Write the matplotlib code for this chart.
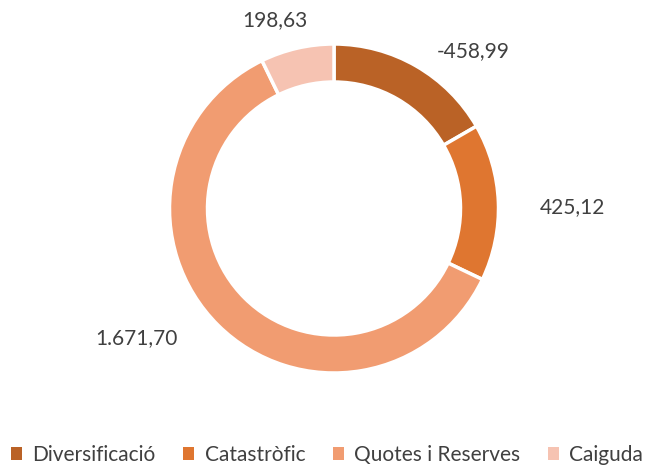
import matplotlib
matplotlib.use('Agg')
import matplotlib.pyplot as plt
from matplotlib.patches import Patch
import numpy as np

categories = ['Diversificació', 'Catastròfic', 'Quotes i Reserves', 'Caiguda']
values = [-458.99, 425.12, 1671.70, 198.63]
labels = ['-458,99', '425,12', '1.671,70', '198,63']
colors = ['#BA6226', '#DF7630', '#F19C71', '#F6C3B2']

plt.rcParams['font.family'] = ['Lato', 'DejaVu Sans']
W, H = 667, 465
fig = plt.figure(figsize=(W / 100, H / 100), dpi=100)
ax = fig.add_axes([0, 0, 1, 1])

cx, cy, R = 334, H - 208.5, 164.5
ax.pie(np.abs(values), colors=colors, startangle=90, counterclock=False,
       center=(cx, cy), radius=R, frame=True,
       wedgeprops=dict(width=38, edgecolor='white', linewidth=2.5))
ax.set_xlim(0, W); ax.set_ylim(0, H); ax.set_aspect('equal'); ax.axis('off')

# data labels (pixel positions)
label_pos = [(473, 51), (572, 207), (136, 338), (275, 20)]
for (x, y), t in zip(label_pos, labels):
    ax.text(x, H - y, t, ha='center', va='center', fontsize=15, color='#404040')

handles = [Patch(facecolor=c, edgecolor='none') for c in colors]
fig.legend(handles, categories, loc='center left', bbox_to_anchor=(-0.012, 1 - 455 / H),
           ncol=4, frameon=False, fontsize=15, handlelength=0.55, handleheight=0.55,
           handletextpad=0.5, columnspacing=1.3, labelcolor='#404040')

fig.savefig('out.png', dpi=100)
